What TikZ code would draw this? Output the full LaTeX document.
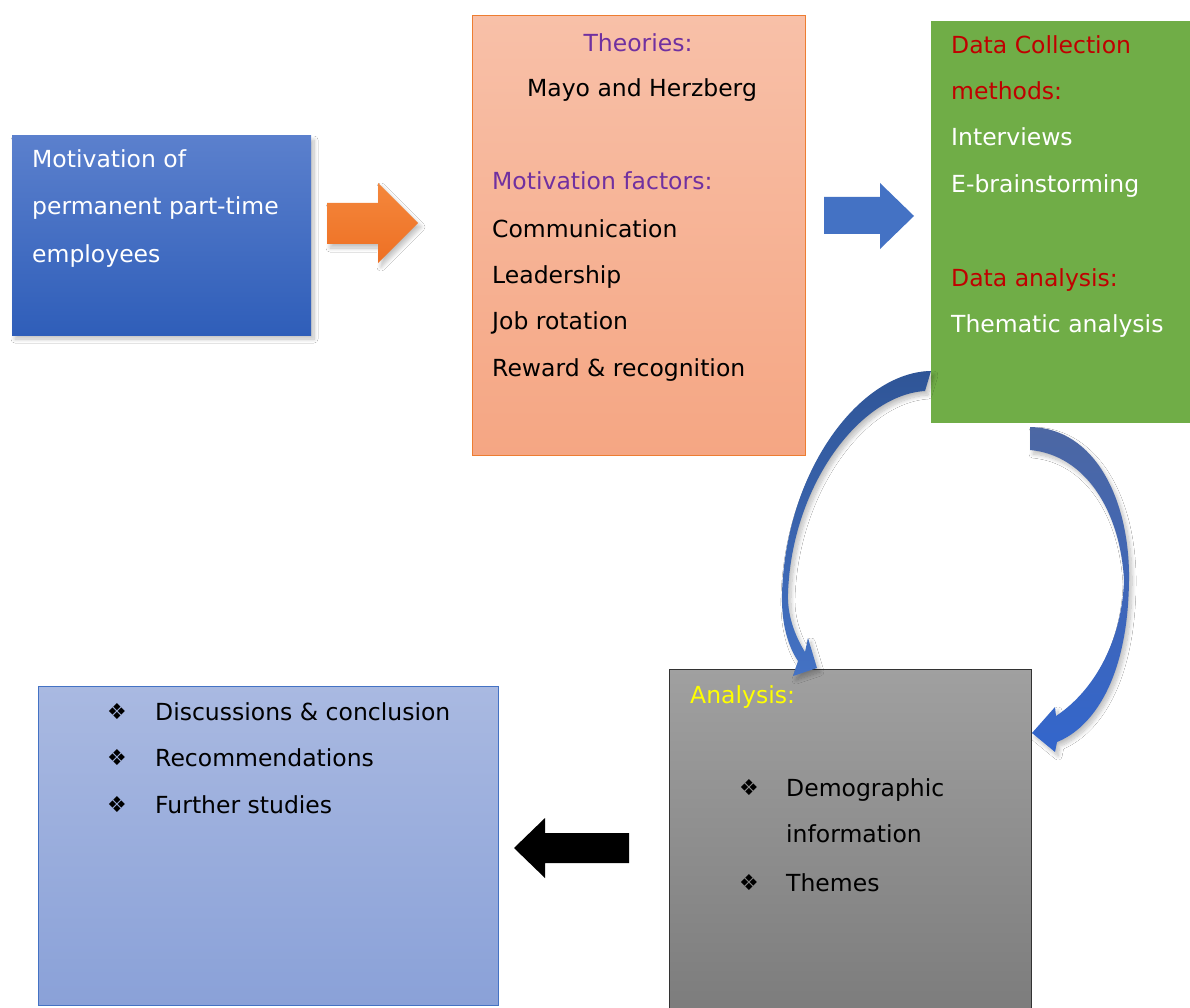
\documentclass[tikz,border=0pt]{standalone}
\usepackage{fontspec}
\setmainfont{DejaVu Sans}
\newfontfamily\symfont{DejaVu Sans}
\usetikzlibrary{shadows.blur}
\definecolor{bAtop}{HTML}{5B80CD}
\definecolor{bAbot}{HTML}{2F5EB9}
\definecolor{salTop}{HTML}{F8C0A8}
\definecolor{salBot}{HTML}{F5A683}
\definecolor{salLine}{HTML}{ED7D31}
\definecolor{grn}{HTML}{70AD47}
\definecolor{gryTop}{HTML}{A0A0A0}
\definecolor{gryBot}{HTML}{7C7C7C}
\definecolor{lbTop}{HTML}{A9B9E1}
\definecolor{lbBot}{HTML}{8AA1D8}
\definecolor{lbLine}{HTML}{4472C4}
\definecolor{purp}{HTML}{7030A0}
\definecolor{dred}{HTML}{C00000}
\definecolor{ylw}{HTML}{FFFF00}
\definecolor{orTop}{HTML}{F4873C}
\definecolor{orBot}{HTML}{EE7024}
\definecolor{arrBlue}{HTML}{4472C4}
\definecolor{cLtop}{HTML}{2F5597}
\definecolor{cLbot}{HTML}{4472C4}
\definecolor{cRtop}{HTML}{4C67A3}
\definecolor{cRbot}{HTML}{3366CC}
\tikzset{
  boxshape/.style={inner sep=0pt, outer sep=0pt, minimum width=#1},
  txt/.style={anchor=base west, inner sep=0pt, font=\fontsize{23.5}{28}\selectfont},
  ctxt/.style={anchor=base, inner sep=0pt, font=\fontsize{23.5}{28}\selectfont},
  bul/.style={anchor=base west, inner sep=0pt, font=\symfont\fontsize{22}{26}\selectfont},
  shd/.style={blur shadow={shadow xshift=3pt, shadow yshift=-4pt, shadow opacity=25, shadow blur steps=10, shadow blur radius=4pt}}
}
\begin{document}
\begin{tikzpicture}[x=1pt,y=-1pt]
\useasboundingbox (0,0) rectangle (1190,1008);
\fill[white] (0,0) rectangle (1190,1008);

% box 1
\node[boxshape=299pt, minimum height=199pt, top color=bAtop, bottom color=bAbot, shd] (mot) at (161.5,235.5) {};
\node[txt, text=white] (m1) at (32,168) {Motivation of};
\node[txt, text=white] (m2) at (32,215) {permanent part-time};
\node[txt, text=white] (m3) at (32,262) {employees};

% orange arrow
\shade[top color=orTop, bottom color=orBot, shd] (327,203) -- (378,203) -- (378,183) -- (418,223) -- (378,263) -- (378,244) -- (327,244) -- cycle;

% box 2
\node[boxshape=333pt, minimum height=439pt, top color=salTop, bottom color=salBot, draw=salLine, line width=1pt] (theo) at (638.5,235.5) {};
\node[ctxt, text=purp] (t1) at (638,52) {Theories:};
\node[ctxt, text=black] (t2) at (642,97) {Mayo and Herzberg};
\node[txt, text=purp] (t3) at (492,190) {Motivation factors:};
\node[txt] (t4) at (492,237) {Communication};
\node[txt] (t5) at (492,283) {Leadership};
\node[txt] (t6) at (492,329) {Job rotation};
\node[txt] (t7) at (492,376) {Reward \& recognition};

% blue arrow
\fill[arrBlue] (824,197) -- (880,197) -- (880,183) -- (914,216) -- (880,249) -- (880,234) -- (824,234) -- cycle;

% box 3
\node[boxshape=259pt, minimum height=402pt, fill=grn] (data) at (1060.5,222) {};
\node[txt, text=dred] (d1) at (951,54) {Data Collection};
\node[txt, text=dred] (d2) at (951,100) {methods:};
\node[txt, text=white] (d3) at (951,146) {Interviews};
\node[txt, text=white] (d4) at (951,193) {E-brainstorming};
\node[txt, text=dred] (d5) at (951,286) {Data analysis:};
\node[txt, text=white] (d6) at (951,332) {Thematic analysis};

% box 4
\node[boxshape=362pt, minimum height=345pt, top color=gryTop, bottom color=gryBot, draw=black!80, line width=0.8pt] (ana) at (850,841.5) {};
\node[txt, text=ylw] (a1) at (690,703) {Analysis:};
\node[bul] (ab1) at (739,795) {❖};
\node[txt] (a2) at (786,796) {Demographic};
\node[txt] (a3) at (786,842) {information};
\node[bul] (ab2) at (739,890) {❖};
\node[txt] (a4) at (786,891) {Themes};

% box 5
\node[boxshape=460pt, minimum height=319pt, top color=lbTop, bottom color=lbBot, draw=lbLine, line width=0.8pt] (conc) at (268,845.5) {};
\node[bul] (cb1) at (107,719) {❖};
\node[txt] (c1) at (155,720) {Discussions \& conclusion};
\node[bul] (cb2) at (107,765) {❖};
\node[txt] (c2) at (155,766) {Recommendations};
\node[bul] (cb3) at (107,812) {❖};
\node[txt] (c3) at (155,813) {Further studies};

% black arrow
\fill[black] (629,833) -- (545,833) -- (545,818) -- (514,848) -- (545,878) -- (545,863) -- (629,863) -- cycle;

% left curved arrow
\shade[top color=cLtop, bottom color=cLbot, shd]
  (931,371) .. controls (860,372) and (786,470) .. (782,593)
  .. controls (781,625) and (789,648) .. (798,661)
  -- (793,676) -- (817,668) -- (808,638) -- (805,652)
  .. controls (795,636) and (787,615) .. (788,593)
  .. controls (792,485) and (860,395) .. (925,391) -- cycle;

% right curved arrow
\shade[top color=cRtop, bottom color=cRbot, shd]
  (1030,427) .. controls (1095,428) and (1130,500) .. (1129,580)
  .. controls (1128,680) and (1092,728) .. (1057,742)
  -- (1055,752) -- (1032,733) -- (1055,707) -- (1056,716)
  .. controls (1095,690) and (1122,640) .. (1124,580)
  .. controls (1120,510) and (1085,455) .. (1030,450) -- cycle;
\end{tikzpicture}
\end{document}
